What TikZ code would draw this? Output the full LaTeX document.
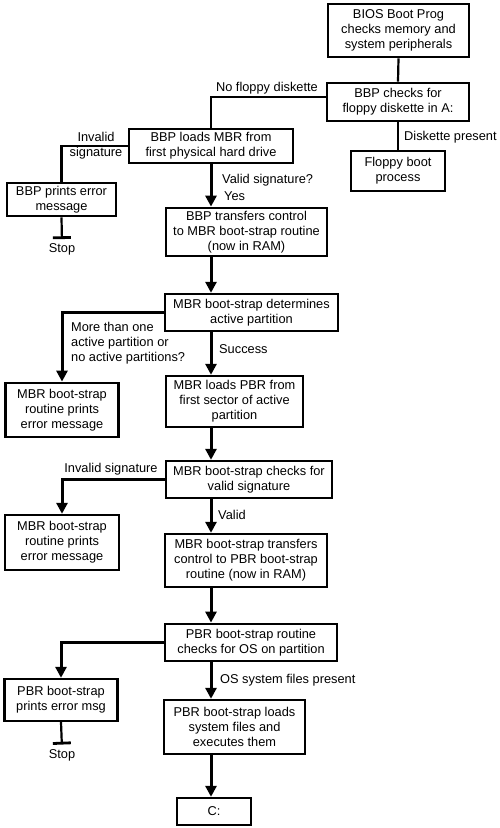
\documentclass[tikz,border=0pt]{standalone}
\usepackage{fontspec}
\setmainfont{Liberation Sans}
\usetikzlibrary{arrows.meta,calc}
\begin{document}
\begin{tikzpicture}[x=1pt,y=-1pt,
  every node/.style={font=\fontsize{12.8}{15}\selectfont},
  box/.style={draw, line width=2.4pt, align=center, inner sep=1pt},
  boldbox/.style={box, line width=2.8pt},
  lbl/.style={inner sep=0pt, text height=9.5pt, text depth=3pt},
  conn/.style={line width=2.2pt},
  arr/.style={line width=3pt, -{Triangle[width=11pt,length=11pt]}},
  stopper/.style={line width=2.2pt, shorten >=4pt, -{Bar[width=18pt,line width=2.8pt]}}
]
\useasboundingbox (0,0) rectangle (500,828);
\coordinate (sp) at (211,0);

% boxes
\node[boldbox, minimum width=141pt, minimum height=53pt] (bios) at (398.5,30.5) {BIOS Boot Prog\\checks memory and\\system peripherals};
\node[boldbox, minimum width=142pt, minimum height=38pt] (bbpchk) at (398,102) {BBP checks for\\floppy diskette in A:};
\node[boldbox, minimum width=164pt, minimum height=34pt] (bbpload) at (211,146) {BBP loads MBR from\\first physical hard drive};
\node[boldbox, minimum width=109pt, minimum height=33pt] (bbperr) at (61.5,199.5) {BBP prints error\\message};
\node[boldbox, minimum width=161pt, minimum height=48pt] (bbpxfer) at (246.5,232) {BBP transfers control\\to MBR boot-strap routine\\(now in RAM)};
\node[boldbox, minimum width=94pt, minimum height=40pt] (floppy) at (398,171) {Floppy boot\\process};
\node[box, minimum width=173pt, minimum height=37pt] (mbrdet) at (251.5,312.5) {MBR boot-strap determines\\active partition};
\node[box, minimum width=137pt, minimum height=51pt] (mbrload) at (234.5,401.5) {MBR loads PBR from\\first sector of active\\partition};
\node[boldbox, minimum width=113pt, minimum height=54pt] (mbrerr1) at (62,410) {MBR boot-strap\\routine prints\\error message};
\node[box, minimum width=166pt, minimum height=37pt] (mbrchk) at (249,479.5) {MBR boot-strap checks for\\valid signature};
\node[box, minimum width=114pt, minimum height=55pt] (mbrerr2) at (62,542.5) {MBR boot-strap\\routine prints\\error message};
\node[box, minimum width=162pt, minimum height=53pt] (mbrxfer) at (246,560.5) {MBR boot-strap transfers\\control to PBR boot-strap\\routine (now in RAM)};
\node[boldbox, minimum width=172pt, minimum height=37pt] (pbrchk) at (251,642.5) {PBR boot-strap routine\\checks for OS on partition};
\node[box, minimum width=113pt, minimum height=42pt] (pbrerr) at (61,700) {PBR boot-strap\\prints error msg};
\node[box, minimum width=141pt, minimum height=54pt] (pbrload) at (234.5,727) {PBR boot-strap loads\\system files and\\executes them};
\node[box, minimum width=74pt, minimum height=27pt] (cdrive) at (214,811.5) {C:};

% labels
\node[lbl, anchor=east] at (318,88) {No floppy diskette};
\node[lbl, anchor=west] at (404,137) {Diskette present};
\node[align=center, inner sep=0pt] at (96,145.5) {Invalid\\signature};
\node[lbl, anchor=west] at (222,180) {Valid signature?};
\node[lbl, anchor=west] at (224,197) {Yes};
\node[align=left, inner sep=0pt, anchor=west] at (71,343.5) {More than one\\active partition or\\no active partitions?};
\node[lbl, anchor=west] at (219,350) {Success};
\node[lbl] at (111,469) {Invalid signature};
\node[lbl, anchor=west] at (218,516) {Valid};
\node[lbl, anchor=west] at (220,680) {OS system files present};
\node[lbl] (stop1) at (62,249.5) {Stop};
\node[lbl] (stop2) at (62,755) {Stop};

% connectors
\draw[conn] (bios.south) -- (bbpchk.north);
\draw[conn] ([yshift=5pt]bbpchk.west) -| (bbpload.north);
\draw[conn] (bbpchk.south) -- (floppy.north);
\draw[conn] (bbpload.west) -| (bbperr.north);
\draw[stopper] (bbperr.south) -- (stop1.north);
\draw[arr] (bbpload.south) -- (bbpxfer.north -| sp);
\draw[arr] (bbpxfer.south -| sp) -- (mbrdet.north -| sp);
\draw[arr] (mbrdet.west) -| (mbrerr1.north);
\draw[arr] (mbrdet.south -| sp) -- (mbrload.north -| sp);
\draw[arr] (mbrload.south -| sp) -- (mbrchk.north -| sp);
\draw[arr] (mbrchk.west) -| (mbrerr2.north);
\draw[arr] (mbrchk.south -| sp) -- (mbrxfer.north -| sp);
\draw[arr] (mbrxfer.south -| sp) -- (pbrchk.north -| sp);
\draw[arr] (pbrchk.west) -| (pbrerr.north);
\draw[stopper] (pbrerr.south) -- (stop2.north);
\draw[arr] (pbrchk.south -| sp) -- (pbrload.north -| sp);
\draw[arr] (pbrload.south -| sp) -- (cdrive.north -| sp);
\end{tikzpicture}
\end{document}
